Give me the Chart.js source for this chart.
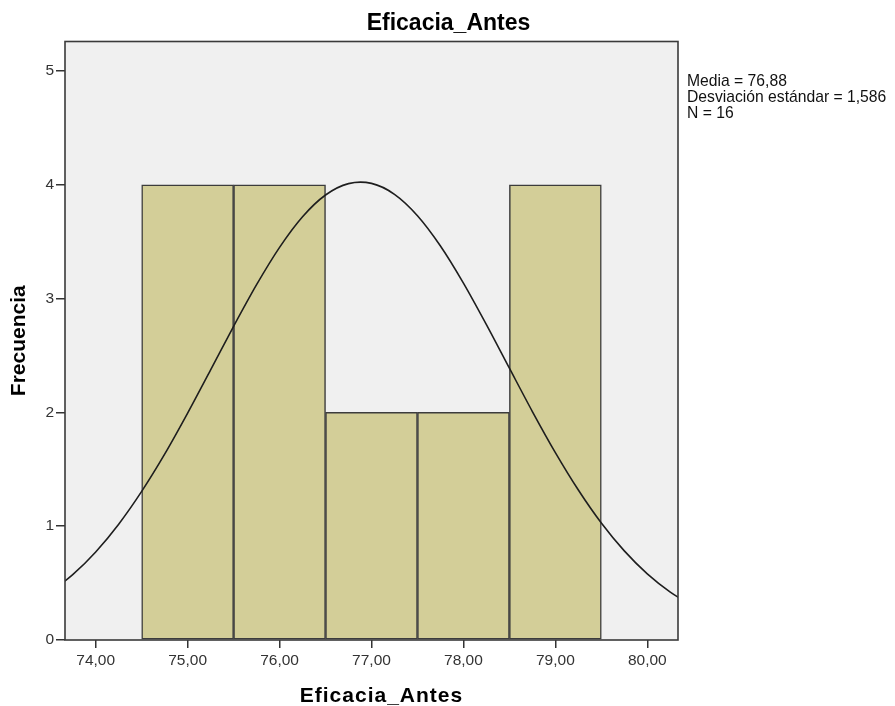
<!DOCTYPE html>
<html lang="es">
<head>
<meta charset="utf-8">
<title>Eficacia_Antes</title>
<script src="https://cdn.jsdelivr.net/npm/chart.js@4.4.1/dist/chart.umd.min.js"></script>
<style>
  html, body { margin: 0; padding: 0; background: #ffffff; }
  #wrap { position: relative; width: 895px; height: 706px; }
  #grafico { position: absolute; left: 0; top: 0; }
  .texto { position: absolute; color: #000; font-family: "Liberation Sans", Arial, sans-serif; white-space: nowrap; }
  #titulo { left: 0; width: 895px; top: 8px; text-align: center; font-size: 23px; font-weight: bold; line-height: 28px; padding-left: 1px; }
  #tituloX { left: 65px; width: 633px; top: 683px; text-align: center; font-size: 21px; font-weight: bold; line-height: 24px; letter-spacing: 1px; }
  #stats { left: 687px; top: 73px; font-size: 15.7px; line-height: 16px; color: #111; }
</style>
</head>
<body>
<div id="wrap">
  <canvas id="grafico" width="895" height="706"></canvas>
  <div id="titulo" class="texto">Eficacia_Antes</div>
  <div id="tituloX" class="texto">Eficacia_Antes</div>
  <div id="stats" class="texto">Media = 76,88<br>Desviación estándar = 1,586<br>N = 16</div>
</div>
<script>
// Histograma de Eficacia_Antes con curva normal

// centros de cada intervalo y frecuencias
const centrosIntervalo = [75, 76, 77, 78, 79];
const frecuencias = [4, 4, 2, 2, 4];

// curva normal (media 76,88, desv. 1,586) leída por puntos
const curvaX = [73.5, 73.75, 74, 74.25, 74.5, 74.75, 75, 75.25, 75.5, 75.75,
  76, 76.25, 76.5, 76.75, 77, 77.25, 77.5, 77.75, 78, 78.25,
  78.5, 78.75, 79, 79.25, 79.5, 79.75, 80, 80.25, 80.5];
const curvaY = [0.415, 0.574, 0.774, 1.018, 1.306, 1.633, 1.994, 2.374, 2.757, 3.123,
  3.451, 3.720, 3.911, 4.011, 4.013, 3.917, 3.729, 3.463, 3.137, 2.772,
  2.389, 2.008, 1.647, 1.318, 1.028, 0.783, 0.581, 0.421, 0.297];

// límites de los ejes
const ejeXMin = 73.666;
const ejeXMax = 80.334;
const ejeYMax = 5.26;

const fuenteTicks = { family: '"Liberation Sans", Arial, sans-serif', size: 15.5 };

// fondo gris y marco del área de trazado
const marcoPlugin = {
  id: 'marco',
  beforeDraw(chart) {
    const { ctx, chartArea: a } = chart;
    ctx.save();
    ctx.fillStyle = '#f0f0f0';
    ctx.fillRect(a.left, a.top, a.right - a.left, a.bottom - a.top);
    ctx.restore();
  },
  afterDraw(chart) {
    const { ctx, chartArea: a } = chart;
    ctx.save();
    ctx.strokeStyle = '#3a3a3a';
    ctx.lineWidth = 1.6;
    ctx.strokeRect(a.left, a.top, a.right - a.left, a.bottom - a.top);
    ctx.restore();
  }
};

const canvas = document.getElementById('grafico');

try {
  new Chart(canvas, {
    type: 'bar',
    data: {
      datasets: [
        {
          type: 'line',
          label: 'Normal',
          data: curvaX.map((x, i) => ({ x: x, y: curvaY[i] })),
          borderColor: '#1e1e1e',
          borderWidth: 1.6,
          pointRadius: 0,
          tension: 0.3,
          fill: false,
          order: 0
        },
        {
          label: 'Frecuencia',
          data: centrosIntervalo.map((x, i) => ({ x: x, y: frecuencias[i] })),
          backgroundColor: '#d3ce98',
          borderColor: '#3c3c3c',
          borderWidth: 1.5,
          borderSkipped: false,
          barPercentage: 1,
          categoryPercentage: 1,
          order: 1
        }
      ]
    },
    options: {
      responsive: false,
      animation: false,
      layout: {
        padding: { top: 41.5, right: 217, bottom: 0, left: 0 }
      },
      plugins: {
        legend: { display: false },
        tooltip: { enabled: false }
      },
      scales: {
        x: {
          type: 'linear',
          min: ejeXMin,
          max: ejeXMax,
          offset: false,
          border: { display: false },
          grid: {
            offset: false,
            drawOnChartArea: false,
            color: '#333333',
            lineWidth: 1.5,
            tickLength: 8
          },
          ticks: {
            stepSize: 1,
            includeBounds: false,
            autoSkip: false,
            maxRotation: 0,
            color: '#333333',
            font: fuenteTicks,
            padding: 3,
            callback: function(value) {
              return value.toFixed(2).replace('.', ',');
            }
          },
          afterFit: function(scale) {
            scale.height = 66;
          }
        },
        y: {
          min: 0,
          max: ejeYMax,
          border: { display: false },
          grid: {
            drawOnChartArea: false,
            color: '#333333',
            lineWidth: 1.5,
            tickLength: 9
          },
          ticks: {
            stepSize: 1,
            includeBounds: false,
            color: '#333333',
            font: fuenteTicks,
            padding: 2
          },
          title: {
            display: true,
            text: 'Frecuencia',
            color: '#000000',
            font: { family: '"Liberation Sans", Arial, sans-serif', size: 21, weight: 'bold' },
            padding: { top: 7, bottom: 0 }
          },
          afterFit: function(scale) {
            scale.width = 65;
          }
        }
      }
    },
    plugins: [marcoPlugin]
  });
} catch (error) {
  console.error('Error al crear el histograma:', error);
}
</script>
</body>
</html>
